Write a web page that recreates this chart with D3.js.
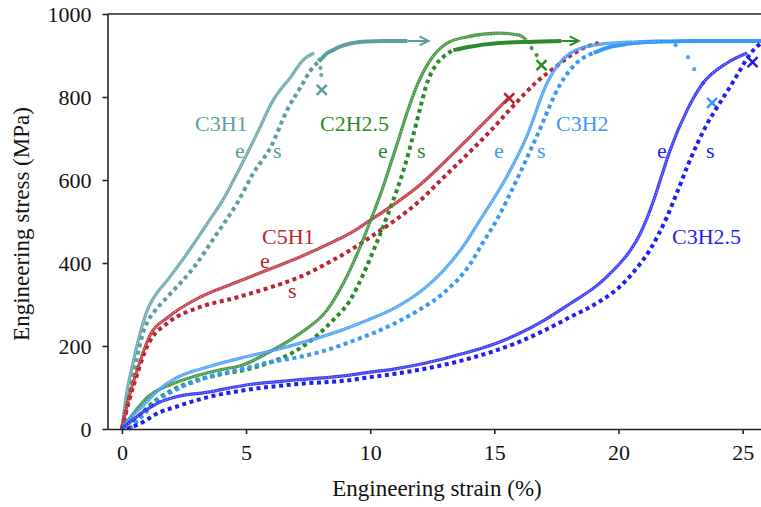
<!DOCTYPE html>
<html><head><meta charset="utf-8">
<script src="https://cdn.jsdelivr.net/npm/d3@7"></script>
<style>
html,body{margin:0;padding:0;background:#fff;}
svg, svg text{font-family:"Liberation Serif",Tinos,"Times New Roman",Times,serif;}
</style></head>
<body><svg id="c" width="761" height="507"></svg>
<script>
// ---------- DATA (strain %, stress MPa) ----------
const xTicks = [0, 5, 10, 15, 20, 25];
const yTicks = [0, 200, 400, 600, 800, 1000];
const xTitle = "Engineering strain (%)";
const yTitle = "Engineering stress (MPa)";

// C3H1
const c3h1E = [[0,0],[0.15,70],[0.45,160],[0.75,235],[1.05,290],[1.3,318],[1.85,360],[2.65,425],[3.55,505],[4.1,555],[4.5,600],[5.45,713],[6.1,793],[6.8,848],[7.3,889],[7.75,906]];
const c3h1S = [[0,0],[0.3,85],[0.6,170],[0.87,235],[1.03,258],[1.4,290],[1.83,318],[2.9,390],[3.84,472],[4.65,545],[5.3,617],[6.0,680],[6.66,769],[7.2,824],[7.7,872],[7.95,886]];
const c3h1P = [[7.95,886],[8.07,894],[8.27,906],[8.47,912],[8.72,920],[9.2,929],[9.88,934],[10.5,935],[11.5,935]];
const c3h1Arrow = [[11.5,935],[12.35,935]];
const c3h1Drop = [[7.95,890],[8.0,870],[8.03,853]];
const c3h1Break = [8.05,817];

// C2H2.5
const c2h25E = [[0,0],[0.5,40],[1,75],[2,108],[3,128],[4,143],[4.9,155],[5.86,183],[7.19,231],[8.27,287],[8.92,351],[9.5,425],[10,500],[10.5,580],[10.8,635],[11.1,690],[11.5,765],[11.9,830],[12.42,889],[13.1,930],[13.9,945],[15.2,954],[16.0,949],[16.3,937]];
const c2h25S = [[0.3,0],[1,50],[2,93],[3,117],[4,132],[5,143],[5.86,158],[7.19,195],[8.5,262],[9.2,311],[9.7,370],[10.2,440],[10.7,515],[11.1,580],[11.4,635],[11.7,700],[12.0,770],[12.3,835],[12.6,873],[12.95,897],[13.35,913]];
const c2h25P = [[13.35,913],[13.9,920],[15.2,930],[16.6,933],[17.7,935]];
const c2h25Arrow = [[17.7,935],[18.4,935]];
const c2h25Drop = [[16.5,918],[16.7,901]];
const c2h25Break = [16.9,877];

// C5H1
const c5h1E = [[0,0],[0.3,80],[0.66,150],[0.95,200],[1.15,228],[1.83,268],[3.16,318],[4.5,351],[5.86,383],[7.19,415],[8.5,451],[9.2,472],[10,503],[11,543],[12,588],[12.8,632],[14.15,712],[15.2,775],[15.56,797]];
const c5h1S = [[0,0],[0.3,70],[0.66,140],[0.95,190],[1.15,214],[1.83,255],[3.16,294],[4.5,315],[5.86,339],[7.19,367],[8.5,407],[9.2,431],[10,462],[11,503],[12,550],[12.8,597],[14.15,676],[14.84,718],[15.6,768],[16.7,836],[17.5,874],[18.2,905],[18.6,918],[19.2,930]];
const c5h1Break = [15.6,797];

// C3H2
const c3h2E = [[0,0],[0.3,25],[0.8,53],[1.47,94],[2.15,122],[3.48,150],[5.0,174],[5.86,186],[7.19,207],[8.5,231],[9.2,246],[10,265],[11,292],[12,330],[13,385],[13.8,445],[14.43,504],[15.5,608],[16.3,704],[17.12,833],[17.6,880],[18.05,905],[19,925],[20.35,932],[21.7,935]];
const c3h2S = [[0.3,0],[0.8,30],[1.47,70],[2.15,94],[3.48,125],[5.0,147],[5.86,160],[7.19,174],[8.5,195],[9.2,210],[10,228],[11,255],[12,288],[13,330],[14,395],[14.5,445],[15.1,504],[15.9,600],[16.7,704],[17.65,830],[18.05,865],[18.45,889],[19,906]];
const c3h2P = [[19,906],[19.5,918],[20.35,928],[21,932],[22,934],[23,935],[26,935]];
const c3h2Drop = [[22.3,925],[22.8,896],[23.05,867],[23.4,833]];
const c3h2Break = [23.77,786];

// C3H2.5
const c3h25E = [[0,0],[0.8,39],[1.47,63],[2.15,77],[3.48,89],[5.0,106],[7,118],[9.2,130],[10,137],[11,145],[12,156],[13,170],[14,186],[15,205],[16,230],[17,262],[18,300],[19.26,352],[19.7,377],[20.07,400],[20.5,432],[20.87,470],[21.15,508],[21.4,548],[21.7,603],[22.08,672],[22.77,769],[23.4,833],[24.37,882],[25.18,906]];
const c3h25S = [[0.2,0],[0.8,15],[1.47,39],[2.15,53],[3.48,77],[5.0,94],[7,108],[9.2,118],[10,125],[11,133],[12,143],[13,155],[14,170],[15,188],[16,210],[17,237],[18,268],[19.26,308],[20,340],[20.7,385],[21.27,432],[21.95,511],[22.36,570],[22.77,632],[23.17,687],[23.57,735],[23.97,775],[24.5,825],[24.9,865],[25.2,895],[25.7,928],[26,940]];
const c3h25Break = [25.4,884];

const seriesNames = ["C3H1","C2H2.5","C5H1","C3H2","C3H2.5"];
const subLabels = ["e","s"];

// ---------- STYLE / LAYOUT ----------
const FONT = '"Liberation Serif", Tinos, "Times New Roman", Times, serif';
const colors = {"C3H1":"#5b9ea0","C2H2.5":"#2b8a2b","C5H1":"#b8262e","C3H2":"#3a99f8","C3H2.5":"#1f1ff2"};
const labelPos = {
  "C3H1":{name:[195,131],e:[235,158],s:[273,158]},
  "C2H2.5":{name:[320,131],e:[378,158],s:[417,158]},
  "C5H1":{name:[262,244],e:[260,268],s:[288,298]},
  "C3H2":{name:[556,131],e:[494,158],s:[537,158]},
  "C3H2.5":{name:[672,244],e:[657,158],s:[706,158]}
};

const svg = d3.select("#c");
const x = d3.scaleLinear().domain([-0.58, 25.74]).range([107.5, 761]);
const y = d3.scaleLinear().domain([0, 1000]).range([429, 14]);

svg.append("defs").append("clipPath").attr("id","clip")
  .append("rect").attr("x",107.5).attr("y",8).attr("width",654).attr("height",421);

const plot = svg.append("g").attr("clip-path","url(#clip)");
const line = d3.line().x(d=>x(d[0])).y(d=>y(d[1])).curve(d3.curveMonotoneX);

function drawE(data, c){
  plot.append("path").attr("d",line(data)).attr("fill","none")
    .attr("stroke",c).attr("stroke-width",3.2).attr("stroke-opacity",0.85);
  plot.append("path").attr("d",line(data)).attr("fill","none")
    .attr("stroke","#fff").attr("stroke-width",1.1).attr("stroke-opacity",0.6)
    .attr("stroke-linecap","round").attr("stroke-dasharray","0 2.9");
}
function drawS(data, c){
  plot.append("path").attr("d",line(data)).attr("fill","none")
    .attr("stroke",c).attr("stroke-width",4).attr("stroke-dasharray","4 3.6");
}
function drawP(data, c){
  plot.append("path").attr("d",line(data)).attr("fill","none")
    .attr("stroke",c).attr("stroke-width",4);
}
function drawArrow(data, c){
  const [a,b] = data;
  const x1=x(a[0]), y1=y(a[1]), x2=x(b[0]), y2=y(b[1]);
  plot.append("line").attr("x1",x1).attr("y1",y1).attr("x2",x2-1).attr("y2",y2)
    .attr("stroke",c).attr("stroke-width",2);
  plot.append("path").attr("d",`M${x2-9},${y2-4.5}L${x2},${y2}L${x2-9},${y2+4.5}`)
    .attr("fill","none").attr("stroke",c).attr("stroke-width",2);
}
function drawDrop(data, c){
  plot.selectAll(null).data(data).enter().append("circle")
    .attr("cx",d=>x(d[0])).attr("cy",d=>y(d[1])).attr("r",2.1).attr("fill",c).attr("fill-opacity",0.9);
}
function drawBreak(p, c){
  const cx=x(p[0]), cy=y(p[1]), s=5;
  plot.append("path").attr("d",`M${cx-s},${cy-s}L${cx+s},${cy+s}M${cx-s},${cy+s}L${cx+s},${cy-s}`)
    .attr("stroke",c).attr("stroke-width",2.6).attr("fill","none");
}

drawS(c3h1S, colors["C3H1"]); drawP(c3h1P, colors["C3H1"]); drawArrow(c3h1Arrow, colors["C3H1"]);
drawE(c3h1E, colors["C3H1"]); drawDrop(c3h1Drop, colors["C3H1"]); drawBreak(c3h1Break, colors["C3H1"]);
drawS(c5h1S, colors["C5H1"]); drawE(c5h1E, colors["C5H1"]); drawBreak(c5h1Break, colors["C5H1"]);
drawS(c2h25S, colors["C2H2.5"]); drawP(c2h25P, colors["C2H2.5"]); drawArrow(c2h25Arrow, colors["C2H2.5"]);
drawE(c2h25E, colors["C2H2.5"]); drawDrop(c2h25Drop, colors["C2H2.5"]); drawBreak(c2h25Break, colors["C2H2.5"]);
drawS(c3h2S, colors["C3H2"]); drawP(c3h2P, colors["C3H2"]);
drawE(c3h2E, colors["C3H2"]); drawDrop(c3h2Drop, colors["C3H2"]); drawBreak(c3h2Break, colors["C3H2"]);
drawS(c3h25S, colors["C3H2.5"]); drawE(c3h25E, colors["C3H2.5"]); drawBreak(c3h25Break, colors["C3H2.5"]);

// ---------- AXES ----------
const axisColor = "#222";
const gx = svg.append("g").attr("transform","translate(0,429)")
  .call(d3.axisBottom(x).tickValues(xTicks).tickSize(5).tickPadding(10).tickFormat(d3.format("d")));
const gy = svg.append("g").attr("transform","translate(107.5,0)")
  .call(d3.axisLeft(y).tickValues(yTicks).tickSize(5).tickPadding(11).tickFormat(d3.format("d")));
[gx,gy].forEach(g=>{
  g.attr("font-family",null).attr("font-size",null);
  g.select(".domain").attr("stroke",axisColor).attr("stroke-width",1.6);
  g.selectAll(".tick line").attr("stroke",axisColor).attr("stroke-width",1.6);
  g.selectAll(".tick text").attr("fill","#111").style("font-family",FONT).style("font-size","22px");
});
gx.select(".domain").attr("d","M107.5,0.5H761");
gy.select(".domain").attr("d","M0.5,429H0.5V14");
svg.append("line").attr("x1",107.5).attr("x2",761).attr("y1",14).attr("y2",14)
  .attr("stroke",axisColor).attr("stroke-width",1.6);

svg.append("text").attr("x",437).attr("y",496).attr("text-anchor","middle")
  .style("font-family",FONT).style("font-size","23px").attr("fill","#111").text(xTitle);
svg.append("text").attr("transform","translate(29,224) rotate(-90)").attr("text-anchor","middle")
  .style("font-family",FONT).style("font-size","23px").attr("fill","#111").text(yTitle);

// ---------- LABELS ----------
seriesNames.forEach(n=>{
  const p = labelPos[n];
  svg.append("text").attr("x",p.name[0]).attr("y",p.name[1])
    .style("font-family",FONT).style("font-size","22px").attr("fill",colors[n]).text(n);
  subLabels.forEach(k=>{
    svg.append("text").attr("x",p[k][0]).attr("y",p[k][1])
      .style("font-family",FONT).style("font-size","22px").attr("fill",colors[n]).text(k);
  });
});
</script></body></html>
